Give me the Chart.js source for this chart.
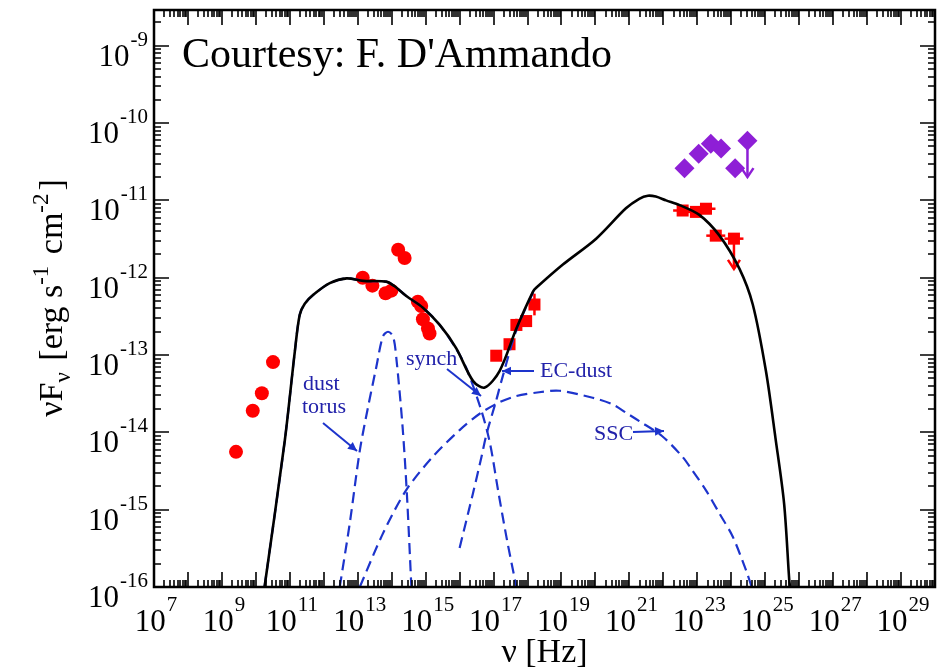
<!DOCTYPE html>
<html>
<head>
<meta charset="utf-8">
<script src="https://cdn.jsdelivr.net/npm/chart.js@4.4.1/dist/chart.umd.min.js"></script>
<style>
  html, body { margin: 0; padding: 0; background: #fff; }
  #wrap { width: 945px; height: 670px; position: relative; }
</style>
</head>
<body>
<div id="wrap"><canvas id="sedChart"></canvas></div>
<script>
// --- datos (nu en Hz, nuFnu en erg s-1 cm-2) ---

// radio / IR / optico (circulos rojos)
const radioNu   = [2.6e9, 8.1e9, 1.5e10, 3.2e10, 1.4e13, 2.7e13, 6.6e13, 9.8e13, 1.55e14, 2.4e14, 5.9e14, 7.4e14, 8.3e14, 1.17e15, 1.3e15];
const radioFlux = [5.6e-15, 1.9e-14, 3.2e-14, 8.1e-14, 1.0e-12, 7.9e-13, 6.3e-13, 6.8e-13, 2.3e-12, 1.8e-12, 4.9e-13, 4.3e-13, 2.9e-13, 2.2e-13, 1.9e-13];

// rayos X (cuadrados rojos)
const xrayNu    = [1.2e17, 2.95e17, 4.7e17, 9.1e17, 1.6e18];
const xrayFlux  = [9.8e-14, 1.38e-13, 2.45e-13, 2.75e-13, 4.5e-13];
const xrayYErr  = [0.05, 0.05, 0.08, 0.05, 0.14];   // dex

// gamma Fermi (cuadrados rojos)
const fermiNu   = [3.7e22, 9.1e22, 1.8e23, 3.5e23, 1.2e24];
const fermiFlux = [7.4e-12, 7.1e-12, 7.8e-12, 3.5e-12, 3.2e-12];
const fermiUL   = [null, null, null, null, 1.3e-12];

// gamma (rombos violeta)
const flareNu   = [4.2e22, 1.1e23, 2.5e23, 5.0e23, 1.3e24, 3.0e24];
const flareFlux = [2.6e-11, 4.0e-11, 5.4e-11, 4.7e-11, 2.6e-11, 5.9e-11];
const flareUL   = [null, null, null, null, null, 2.0e-11];

// modelo total (linea negra)
const totalNu   = [1.8e10, 7.1e10, 1.4e11, 1.95e11, 2.75e11, 4.9e11, 1.5e12, 4.7e12, 1.45e13, 6.9e13, 1.2e14, 2.7e14, 8.3e14, 2.6e15, 7.9e15, 2.5e16, 5.5e16, 1.5e17, 4.7e17, 1.45e18, 1.8e18, 1.1e19, 1.05e20, 7.9e20, 1.95e21, 3.5e21, 6.0e21, 1.2e22, 3.0e22, 1.15e23, 4.5e23, 1.75e24, 4.3e24, 1.05e25, 2.0e25, 3.6e25, 5.1e25, 5.4e25];
const totalFlux = [1e-16, 7.8e-15, 1.1e-13, 3.3e-13, 4.6e-13, 6.0e-13, 8.5e-13, 9.8e-13, 9.1e-13, 8.9e-13, 7.8e-13, 5.8e-13, 4.1e-13, 2.45e-13, 1.23e-13, 4.6e-14, 3.8e-14, 6.2e-14, 2.2e-13, 6.6e-13, 7.4e-13, 1.48e-12, 3.2e-12, 7.9e-12, 1.05e-11, 1.15e-11, 1.12e-11, 1.0e-11, 8.7e-12, 6.5e-12, 3.5e-12, 1.3e-12, 4.5e-13, 6.2e-14, 8.5e-15, 1.2e-15, 1.23e-16, 1e-16];

// componentes (lineas azules discontinuas)
const torusNu   = [2.95e12, 5.8e12, 1.15e13, 2.0e13, 3.5e13, 5.5e13, 7.8e13, 1.1e14, 1.4e14, 2.1e14, 2.8e14, 3.8e14];
const torusFlux = [1e-16, 6.6e-16, 5.8e-15, 2.1e-14, 6.9e-14, 1.74e-13, 2.0e-13, 1.74e-13, 8.3e-14, 1.15e-14, 1.6e-15, 1e-16];

const synchNu   = [1.8e10, 7.1e10, 1.4e11, 1.95e11, 2.75e11, 4.9e11, 1.5e12, 4.7e12, 1.45e13, 6.9e13, 1.2e14, 2.7e14, 8.3e14, 2.6e15, 7.9e15, 1.55e16, 4.4e16, 7.9e16, 1.35e17, 2.5e17, 4.7e17];
const synchFlux = [1e-16, 7.8e-15, 1.1e-13, 3.3e-13, 4.6e-13, 6.0e-13, 8.5e-13, 9.8e-13, 9.1e-13, 8.9e-13, 7.8e-13, 5.8e-13, 4.1e-13, 2.45e-13, 1.2e-13, 6.9e-14, 1.9e-14, 7.1e-15, 1.8e-15, 4.0e-16, 1e-16];

const ecNu      = [1.0e16, 2.45e16, 4.4e16, 6.2e16, 1.2e17, 1.7e17, 4.7e17, 1.45e18, 1.8e18];
const ecFlux    = [3.2e-16, 1.6e-15, 4.8e-15, 9.5e-15, 2.6e-14, 4.6e-14, 2.1e-13, 6.4e-13, 7.2e-13];

const sscNu     = [1.15e13, 5.5e13, 2.7e14, 1.6e15, 1.0e16, 3.9e16, 1.5e17, 4.7e17, 2.2e18, 8.7e18, 8.3e19, 3.2e20, 7.9e20, 1.95e21, 9.3e21, 3.7e22, 7.2e22, 1.8e23, 4.5e23, 1.1e24, 2.7e24, 4.0e24];
const sscFlux   = [1e-16, 4.9e-16, 1.8e-15, 4.8e-15, 1.07e-14, 1.74e-14, 2.45e-14, 2.95e-14, 3.3e-14, 3.45e-14, 2.8e-14, 2.3e-14, 1.8e-14, 1.4e-14, 8.9e-15, 4.8e-15, 3.2e-15, 1.78e-15, 8.9e-16, 4.5e-16, 1.66e-16, 1e-16];

// etiquetas de ejes (exponentes)
const xTickExp = [7, 9, 11, 13, 15, 17, 19, 21, 23, 25, 27, 29];
const yTickExp = [-16, -15, -14, -13, -12, -11, -10, -9];

const RED = '#ff0000';
const VIOLET = '#8e1fd6';
const BLUE = '#1d34cc';
const BLUE_TEXT = '#2222aa';
const SERIF = '"Liberation Serif", "DejaVu Serif", serif';

function pts(xs, ys) {
    return xs.map((x, i) => ({ x: x, y: ys[i] }));
}

function curve(label, xs, ys, color, width, dash) {
    return {
        label: label,
        data: pts(xs, ys),
        showLine: true,
        borderColor: color,
        borderWidth: width,
        borderDash: dash,
        pointRadius: 0,
        tension: 0.3,
        fill: false
    };
}

// barras de error y limites superiores
const errorBarPlugin = {
    id: 'errorBars',
    beforeDatasetsDraw(chart) {
        const ctx = chart.ctx;
        const xs = chart.scales.x, ys = chart.scales.y;
        chart.data.datasets.forEach((ds, i) => {
            if (!ds.errColor) return;
            ctx.save();
            ctx.strokeStyle = ds.errColor;
            ctx.fillStyle = ds.errColor;
            ctx.lineWidth = 2.5;
            ds.data.forEach((p, j) => {
                const px = xs.getPixelForValue(p.x);
                const py = ys.getPixelForValue(p.y);
                if (ds.xErrDex) {
                    const e = ds.xErrDex;
                    ctx.beginPath();
                    ctx.moveTo(xs.getPixelForValue(p.x / Math.pow(10, e)), py);
                    ctx.lineTo(xs.getPixelForValue(p.x * Math.pow(10, e)), py);
                    ctx.stroke();
                }
                if (ds.yErrDex && ds.yErrDex[j]) {
                    const e = ds.yErrDex[j];
                    ctx.beginPath();
                    ctx.moveTo(px, ys.getPixelForValue(p.y / Math.pow(10, e)));
                    ctx.lineTo(px, ys.getPixelForValue(p.y * Math.pow(10, e)));
                    ctx.stroke();
                }
                if (ds.upperTo && ds.upperTo[j]) {
                    const yEnd = ys.getPixelForValue(ds.upperTo[j]);
                    ctx.beginPath();
                    ctx.moveTo(px, py);
                    ctx.lineTo(px, yEnd);
                    ctx.stroke();
                    ctx.beginPath();
                    ctx.moveTo(px - 6, yEnd - 9);
                    ctx.lineTo(px, yEnd);
                    ctx.lineTo(px + 6, yEnd - 9);
                    ctx.stroke();
                }
            });
            ctx.restore();
        });
    }
};

function arrow(ctx, x0, y0, x1, y1) {
    const a = Math.atan2(y1 - y0, x1 - x0);
    ctx.beginPath();
    ctx.moveTo(x0, y0);
    ctx.lineTo(x1, y1);
    ctx.stroke();
    ctx.beginPath();
    ctx.moveTo(x1, y1);
    ctx.lineTo(x1 - 10 * Math.cos(a - 0.45), y1 - 10 * Math.sin(a - 0.45));
    ctx.lineTo(x1 - 10 * Math.cos(a + 0.45), y1 - 10 * Math.sin(a + 0.45));
    ctx.closePath();
    ctx.fill();
}

// texto con exponente: "10" + superindice
function powerLabel(ctx, base, sup, x, y, align) {
    ctx.font = '31px ' + SERIF;
    const wb = ctx.measureText(base).width;
    ctx.font = '21px ' + SERIF;
    const ws = ctx.measureText(sup).width;
    const total = wb + 1 + ws;
    let x0 = x;
    if (align === 'right') x0 = x - total;
    if (align === 'center') x0 = x - total / 2;
    ctx.textAlign = 'left';
    ctx.textBaseline = 'alphabetic';
    ctx.font = '31px ' + SERIF;
    ctx.fillText(base, x0, y);
    ctx.font = '21px ' + SERIF;
    ctx.fillText(sup, x0 + wb + 1, y - 20);
}

// marco, marcas de ejes, etiquetas y anotaciones
const framePlugin = {
    id: 'sedFrame',
    afterDraw(chart) {
        const ctx = chart.ctx;
        const a = chart.chartArea;
        const xs = chart.scales.x, ys = chart.scales.y;
        ctx.save();
        ctx.strokeStyle = '#000';
        ctx.lineWidth = 1.6;
        // eje x: marcas abajo y arriba
        for (let k = 7; k <= 29; k++) {
            for (let m = 1; m <= 9; m++) {
                const px = Math.round(xs.getPixelForValue(m * Math.pow(10, k)));
                const len = m === 1 ? 15 : 7;
                ctx.beginPath();
                ctx.moveTo(px, a.bottom); ctx.lineTo(px, a.bottom - len);
                ctx.moveTo(px, a.top); ctx.lineTo(px, a.top + len);
                ctx.stroke();
            }
        }
        // eje y: marcas izquierda y derecha
        for (let k = -16; k <= -9; k++) {
            for (let m = 1; m <= 9; m++) {
                const v = m * Math.pow(10, k);
                if (v > ys.max) break;
                const py = Math.round(ys.getPixelForValue(v));
                const len = m === 1 ? 15 : 7;
                ctx.beginPath();
                ctx.moveTo(a.left, py); ctx.lineTo(a.left + len, py);
                ctx.moveTo(a.right, py); ctx.lineTo(a.right - len, py);
                ctx.stroke();
            }
        }
        ctx.lineWidth = 2.5;
        ctx.strokeRect(a.left, a.top, a.right - a.left, a.bottom - a.top);

        // etiquetas
        ctx.fillStyle = '#000';
        xTickExp.forEach(e => {
            powerLabel(ctx, '10', String(e), xs.getPixelForValue(Math.pow(10, e)) + 2, 631, 'center');
        });
        yTickExp.forEach(e => {
            powerLabel(ctx, '10', String(e), 148, ys.getPixelForValue(Math.pow(10, e)) + 20, 'right');
        });

        // titulo eje x
        ctx.font = '34px ' + SERIF;
        ctx.textAlign = 'center';
        ctx.fillText('\u03bd [Hz]', (a.left + a.right) / 2, 662);

        // titulo eje y (rotado)
        ctx.save();
        ctx.translate(62, 298);
        ctx.rotate(-Math.PI / 2);
        const parts = [
            ['\u03bdF', 34, 0], ['\u03bd', 23, -8], [' [erg s', 34, 0], ['-1', 23, 14],
            [' cm', 34, 0], ['-2', 23, 14], [']', 34, 0]
        ];
        let w = 0;
        parts.forEach(p => { ctx.font = p[1] + 'px ' + SERIF; w += ctx.measureText(p[0]).width + (p[1] === 23 ? 3 : 0); });
        let cx = -w / 2;
        ctx.textAlign = 'left';
        parts.forEach(p => {
            ctx.font = p[1] + 'px ' + SERIF;
            ctx.fillText(p[0], cx, -p[2]);
            cx += ctx.measureText(p[0]).width + (p[1] === 23 ? 3 : 0);
        });
        ctx.restore();

        // creditos
        ctx.font = '42px ' + SERIF;
        ctx.textAlign = 'left';
        ctx.fillText("Courtesy: F. D'Ammando", 182, 67);

        // anotaciones de componentes
        ctx.fillStyle = BLUE_TEXT;
        ctx.font = '22px ' + SERIF;
        ctx.fillText('dust', 303, 390);
        ctx.fillText('torus', 302, 413);
        ctx.fillText('synch', 406, 365);
        ctx.fillText('EC-dust', 540, 377);
        ctx.fillText('SSC', 594, 440);
        ctx.strokeStyle = BLUE;
        ctx.fillStyle = BLUE;
        ctx.lineWidth = 2;
        arrow(ctx, 323, 423, 357, 451);
        arrow(ctx, 447, 369, 481, 396);
        arrow(ctx, 534, 371, 502, 371);
        arrow(ctx, 633, 432, 664, 431);
        ctx.restore();
    }
};

document.addEventListener('DOMContentLoaded', function() {
    const ctx = document.getElementById('sedChart').getContext('2d');
    new Chart(ctx, {
        type: 'scatter',
        data: {
            datasets: [
                curve('Total', totalNu, totalFlux, '#000000', 2.6, []),
                curve('dust torus', torusNu, torusFlux, BLUE, 2.2, [11, 6]),
                curve('synch', synchNu, synchFlux, BLUE, 2.2, [11, 6]),
                curve('EC-dust', ecNu, ecFlux, BLUE, 2.2, [11, 6]),
                curve('SSC', sscNu, sscFlux, BLUE, 2.2, [11, 6]),
                {
                    label: 'Radio-optico',
                    data: pts(radioNu, radioFlux),
                    pointStyle: 'circle',
                    pointRadius: 7,
                    backgroundColor: RED,
                    borderColor: RED,
                    borderWidth: 0
                },
                {
                    label: 'Rayos X',
                    data: pts(xrayNu, xrayFlux),
                    pointStyle: 'rect',
                    pointRadius: 8.5,
                    backgroundColor: RED,
                    borderColor: RED,
                    borderWidth: 0,
                    errColor: RED,
                    xErrDex: 0.12,
                    yErrDex: xrayYErr
                },
                {
                    label: 'Fermi',
                    data: pts(fermiNu, fermiFlux),
                    pointStyle: 'rect',
                    pointRadius: 8.5,
                    backgroundColor: RED,
                    borderColor: RED,
                    borderWidth: 0,
                    errColor: RED,
                    xErrDex: 0.28,
                    upperTo: fermiUL
                },
                {
                    label: 'Flare',
                    data: pts(flareNu, flareFlux),
                    pointStyle: 'rectRot',
                    pointRadius: 10,
                    backgroundColor: VIOLET,
                    borderColor: VIOLET,
                    borderWidth: 0,
                    errColor: VIOLET,
                    upperTo: flareUL
                }
            ]
        },
        options: {
            responsive: true,
            maintainAspectRatio: false,
            animation: false,
            layout: {
                padding: { left: 154, right: 8, top: 8, bottom: 83 }
            },
            plugins: {
                legend: { display: false },
                tooltip: { enabled: false }
            },
            scales: {
                x: { type: 'logarithmic', min: 1e7, max: 1e30, display: false },
                y: { type: 'logarithmic', min: 1e-16, max: 2.9e-9, display: false }
            }
        },
        plugins: [errorBarPlugin, framePlugin]
    });
});
</script>
</body>
</html>
